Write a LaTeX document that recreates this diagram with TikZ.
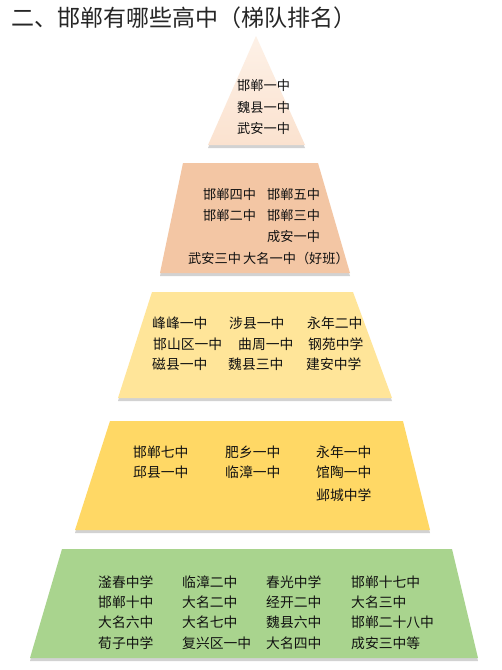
\documentclass[tikz,border=0pt]{standalone}
\usepackage{fontspec}
\newfontfamily\cjk{Noto Sans CJK SC}
\usetikzlibrary{shadows}
\definecolor{tierone}{HTML}{FBE2CF}
\definecolor{tieronetop}{HTML}{FDF1E7}
\definecolor{tiertwo}{HTML}{F3C6A4}
\definecolor{tierthree}{HTML}{FFE599}
\definecolor{tierfour}{HTML}{FFD865}
\definecolor{tierfive}{HTML}{A9D48E}
\definecolor{ink}{HTML}{111111}
\definecolor{headink}{HTML}{262626}
\tikzset{
  tier/.style={draw=none,drop shadow={shadow xshift=0pt,shadow yshift=-3pt,opacity=0.25,fill=black!70}},
  title/.style={anchor=west,inner sep=0pt,text=headink,font=\cjk\fontsize{23}{25}\selectfont},
  school/.style={anchor=west,inner sep=0pt,text=ink,font=\cjk\fontsize{13.8}{15}\selectfont},
  topschool/.style={school,font=\cjk\fontsize{13.2}{15}\selectfont},
}
\begin{document}
\begin{tikzpicture}[x=1pt,y=-1pt]
  \useasboundingbox[fill=white] (0,0) rectangle (502,670);
  \node[title] (head) at (11,18) {二、邯郸有哪些高中（梯队排名）};
  % tiers, top to bottom
  \path[tier,top color=tieronetop,bottom color=tierone] (256,36) -- (305,145) -- (208,145) -- cycle;
  \fill[tier,tiertwo] (183,163) -- (318,163) -- (350,273) -- (160,273) -- cycle;
  \fill[tier,tierthree] (152,292) -- (353,292) -- (392,398) -- (118,398) -- cycle;
  \fill[tier,tierfour] (110,421) -- (403,421) -- (430,530) -- (75,530) -- cycle;
  \fill[tier,tierfive] (62,549) -- (452,549) -- (478,658) -- (30,658) -- cycle;
  % first tier
  \node[topschool] (t1a) at (237,85) {邯郸一中};
  \node[topschool] (t1b) at (237,107) {魏县一中};
  \node[topschool] (t1c) at (237,128) {武安一中};
  % second tier
  \node[topschool] (t2a) at (203,194) {邯郸四中};
  \node[topschool] (t2b) at (267,194) {邯郸五中};
  \node[topschool] (t2c) at (203,215) {邯郸二中};
  \node[topschool] (t2d) at (267,215) {邯郸三中};
  \node[topschool] (t2e) at (267,237) {成安一中};
  \node[topschool] (t2f) at (188,258) {武安三中};
  \node[topschool] (t2g) at (243,258) {大名一中（好班）};
  % third tier
  \node[school] (t3a) at (152,323) {峰峰一中};
  \node[school] (t3b) at (229,323) {涉县一中};
  \node[school] (t3c) at (307,323) {永年二中};
  \node[school] (t3d) at (153,344) {邯山区一中};
  \node[school] (t3e) at (238,344) {曲周一中};
  \node[school] (t3f) at (308,344) {钢苑中学};
  \node[school] (t3g) at (152,364) {磁县一中};
  \node[school] (t3h) at (228,364) {魏县三中};
  \node[school] (t3i) at (306,364) {建安中学};
  % fourth tier
  \node[school] (t4a) at (133,452) {邯郸七中};
  \node[school] (t4b) at (225,452) {肥乡一中};
  \node[school] (t4c) at (316,452) {永年一中};
  \node[school] (t4d) at (133,472) {邱县一中};
  \node[school] (t4e) at (225,472) {临漳一中};
  \node[school] (t4f) at (316,472) {馆陶一中};
  \node[school] (t4g) at (316,495) {邺城中学};
  % fifth tier
  \node[school] (t5a) at (98,582) {滏春中学};
  \node[school] (t5b) at (182,582) {临漳二中};
  \node[school] (t5c) at (266,582) {春光中学};
  \node[school] (t5d) at (351,582) {邯郸十七中};
  \node[school] (t5e) at (98,602) {邯郸十中};
  \node[school] (t5f) at (182,602) {大名二中};
  \node[school] (t5g) at (266,602) {经开二中};
  \node[school] (t5h) at (351,602) {大名三中};
  \node[school] (t5i) at (98,622) {大名六中};
  \node[school] (t5j) at (182,622) {大名七中};
  \node[school] (t5k) at (266,622) {魏县六中};
  \node[school] (t5l) at (351,622) {邯郸二十八中};
  \node[school] (t5m) at (98,643) {荀子中学};
  \node[school] (t5n) at (182,643) {复兴区一中};
  \node[school] (t5o) at (266,643) {大名四中};
  \node[school] (t5p) at (351,643) {成安三中等};
\end{tikzpicture}
\end{document}
